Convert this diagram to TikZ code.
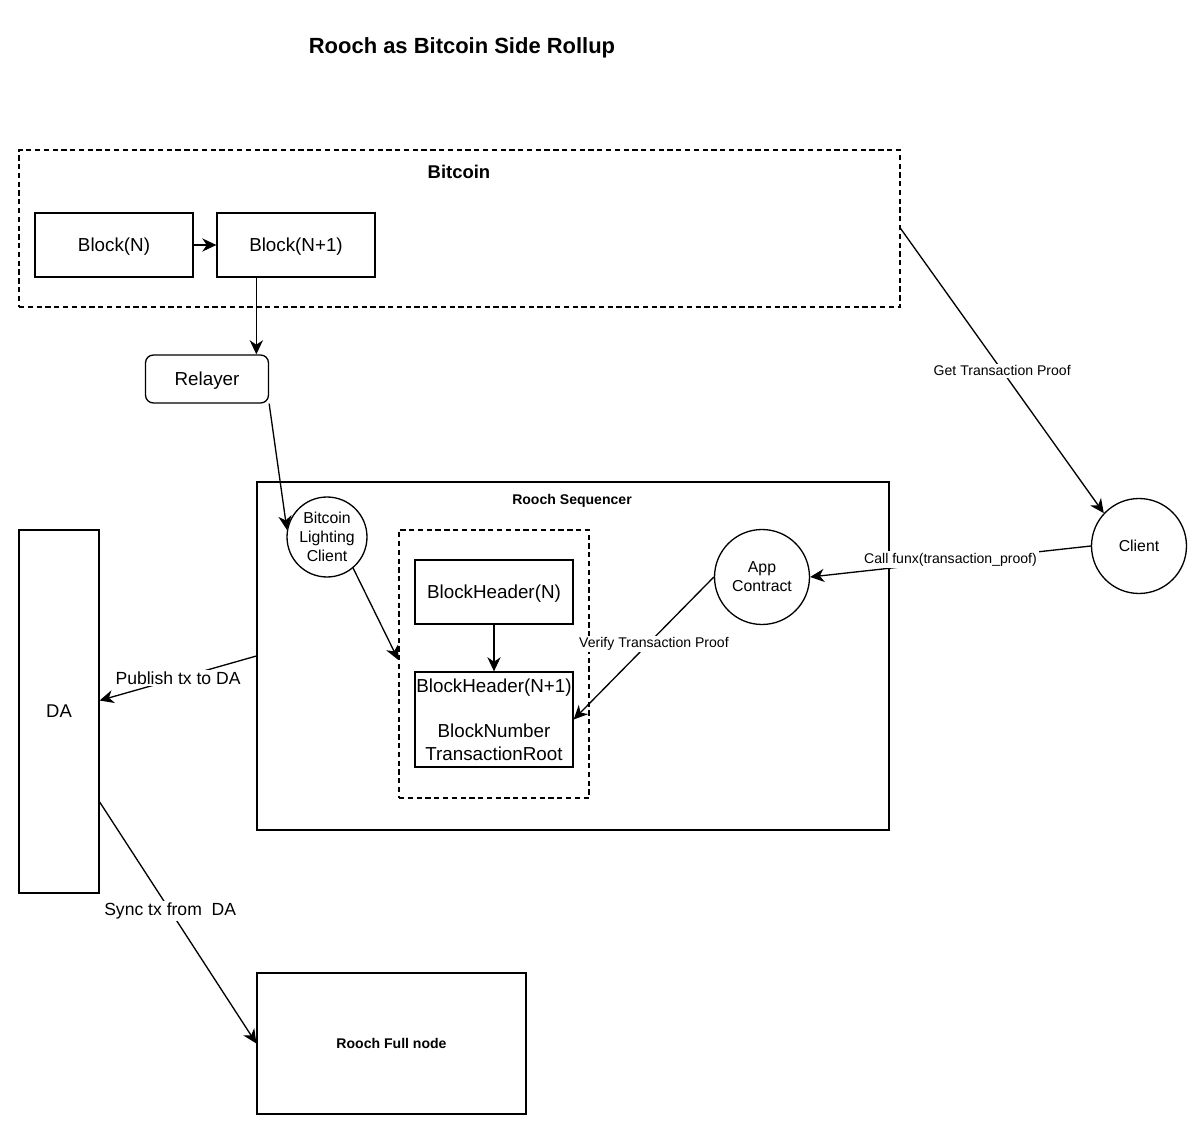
\documentclass[tikz,border=0pt]{standalone}
\usepackage{fontspec}
\setmainfont{Liberation Sans}
\usetikzlibrary{arrows.meta}

\begin{document}
\begin{tikzpicture}[
    x=0.02cm, y=-0.02cm,
    box/.style={
        draw,
        line width=0.75pt,
        minimum width=3.16cm,
        minimum height=1.28cm,
        inner sep=0pt,
        text depth=0pt,
        align=center,
        font=\fontsize{10.7}{13}\selectfont
    },
    frame/.style={draw, line width=0.75pt, inner sep=0pt},
    group/.style={frame, dash pattern=on 3pt off 2pt},
    actor/.style={
        draw,
        circle,
        line width=0.75pt,
        inner sep=0pt,
        align=center,
        font=\fontsize{9}{10.8}\selectfont
    },
    heading/.style={font=\bfseries\fontsize{8}{9.6}\selectfont},
    link/.style={draw, line width=0.75pt, -{Stealth[length=8pt, width=7.5pt, inset=2.5pt]}},
    tag/.style={fill=white, inner sep=1pt, font=\fontsize{8}{9.6}\selectfont}
]
    \useasboundingbox (0,0) rectangle (1200,1131);

    \node[font=\bfseries\fontsize{12.5}{15}\selectfont] (title) at (462,48)
        {Rooch as Bitcoin Side Rollup};

    % bitcoin chain
    \node[group, minimum width=17.62cm, minimum height=3.14cm] (bitcoin) at (459.5,228.5) {};
    \node[font=\bfseries\fontsize{10.5}{12.6}\selectfont] (bitcointitle) at (459,172) {Bitcoin};
    \node[box] (blockn) at (114,245) {Block(N)};
    \node[box] (blocknext) at (296,245) {Block(N+1)};
    \node[box, rounded corners=4.5pt, minimum width=2.46cm, minimum height=0.96cm] (relayer) at (207,379) {Relayer};

    % sequencer
    \node[frame, minimum width=12.64cm, minimum height=6.96cm] (sequencer) at (573,656) {};
    \node[heading] (sequencertitle) at (572,501) {Rooch Sequencer};
    \node[actor, minimum size=1.6cm] (lighting) at (327,537) {Bitcoin\\Lighting\\Client};
    \node[group, minimum width=3.8cm, minimum height=5.36cm] (headers) at (494,664) {};
    \node[box] (headern) at (494,592) {BlockHeader(N)};
    \node[box, minimum height=1.9cm] (headernext) at (494,719.5)
        {BlockHeader(N+1)\\[13pt]BlockNumber\\TransactionRoot};
    \node[actor, minimum size=1.9cm] (appcontract) at (762,577) {App\\Contract};
    \node[actor, minimum size=1.9cm] (client) at (1139,546) {Client};

    % data availability
    \node[frame, minimum width=1.6cm, minimum height=7.26cm, font=\fontsize{10.5}{12.6}\selectfont] (da) at (59,711.5) {DA};
    \node[frame, minimum width=5.38cm, minimum height=2.82cm, heading] (fullnode) at (391.5,1043.5) {Rooch Full node};

    \draw[link] (blockn) -- (blocknext);
    \draw[link] ([xshift=0.8cm]blocknext.south west) -- ([xshift=0.8cm]blocknext.south west |- relayer.north);
    \draw[link] (relayer.south east) -- (lighting.170);
    \draw[link] (lighting.-50) -- ([yshift=0.08cm]headers.west);
    \draw[link] (headern) -- (headernext);
    \draw[link] (bitcoin.east) -- node[tag, pos=0.5] {Get Transaction Proof} (client.137);
    \draw[link] (client.west) -- node[tag, pos=0.5, yshift=0.04cm] {Call funx(transaction\_proof)} (appcontract.east);
    \draw[link] (appcontract.west) -- node[tag, pos=0.47, xshift=0.12cm] {Verify Transaction Proof} (headernext.east);
    \draw[link] (sequencer.west) -- node[tag, font=\fontsize{10}{12}\selectfont, pos=0.5] {Publish tx to DA} ([yshift=0.22cm]da.east);
    \draw[link] ([yshift=-1.81cm]da.east) -- node[tag, font=\fontsize{10}{12}\selectfont, pos=0.45] {Sync tx from\ \ DA} (fullnode.west);
\end{tikzpicture}
\end{document}
